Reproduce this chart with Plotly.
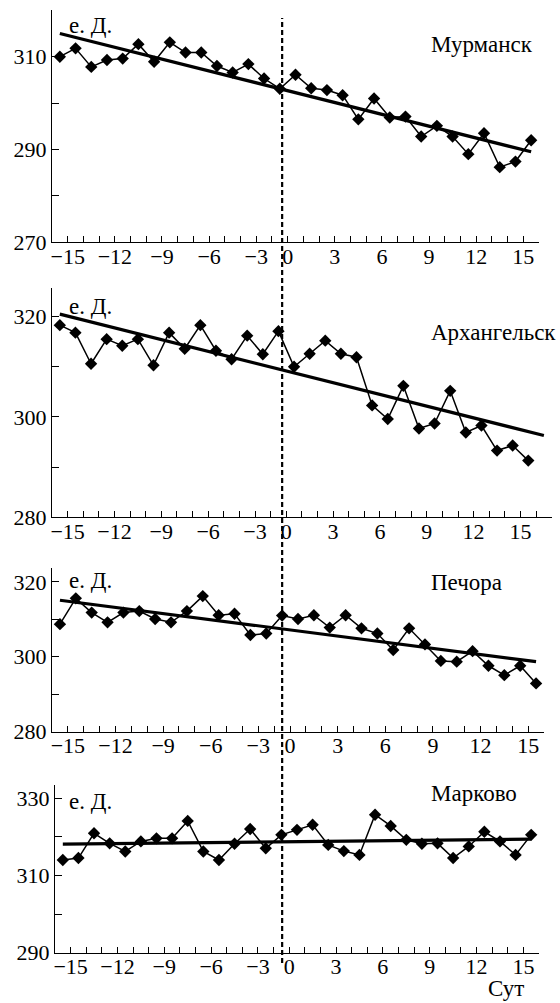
import plotly.graph_objects as go

# ---------------- data ----------------
days = list(range(-15, 16))
stations = ["Мурманск", "Архангельск", "Печора", "Марково"]

murmansk = [310.0, 311.8, 307.8, 309.3, 309.6, 312.7, 308.9, 313.1, 310.9, 310.9,
            308.0, 306.6, 308.4, 305.3, 303.1, 306.1, 303.2, 302.8, 301.7, 296.5,
            301.0, 296.9, 297.1, 292.8, 295.1, 292.8, 289.0, 293.5, 286.2, 287.4, 292.0]
arkhangelsk = [318.3, 316.8, 310.6, 315.5, 314.2, 315.5, 310.3, 316.8, 313.6, 318.3,
               313.2, 311.5, 316.2, 312.5, 317.1, 310.0, 312.6, 315.2, 312.6, 311.9,
               302.3, 299.6, 306.2, 297.7, 298.7, 305.2, 296.9, 298.3, 293.3, 294.3, 291.3]
pechora = [308.7, 315.6, 311.8, 309.2, 311.8, 312.2, 310.1, 309.2, 312.2, 316.2,
           311.1, 311.5, 305.8, 306.2, 311.0, 310.1, 311.1, 307.8, 311.1, 307.6,
           306.2, 301.8, 307.6, 303.3, 298.9, 298.7, 301.5, 297.6, 295.1, 297.6, 292.9]
markovo = [314.0, 314.5, 320.9, 318.3, 316.2, 318.8, 319.6, 319.6, 324.1, 316.2,
           314.0, 318.2, 322.0, 317.0, 320.5, 321.8, 323.1, 317.9, 316.3, 315.3,
           325.7, 322.8, 319.2, 318.2, 318.3, 314.5, 317.5, 321.3, 318.8, 315.3, 320.5]
series = [murmansk, arkhangelsk, pechora, markovo]

trend_x = [[-15, 15], [-15, 16], [-15, 15], [-15, 15]]
trend_y = [[315.0, 289.5], [320.5, 296.3], [315.1, 298.7], [318.1, 319.4]]

y_ranges = [[270, 320], [280, 325.7], [280, 323.7], [290, 333.4]]
y_tick0 = [10, 0, 0, 10]
x_ranges = [[-15.5, 15.5], [-15.5, 16.5], [-15.5, 15.5], [-15.5, 15.5]]
x_tickvals = [-14.5, -11.5, -8.5, -5.5, -2.5, -0.5, 2.5, 5.5, 8.5, 11.5, 14.5]
x_ticktext = ["−15", "−12", "−9", "−6", "−3", "0", "3", "6", "9", "12", "15"]
event_day = -0.85
unit_label = "е.\u00a0Д."
x_label = "Сут"

# ---------------- layout geometry (pixels) ----------------
W, H = 560, 1003
boxes = [(52, 539, 10.3, 242.3), (52, 551.7, 288, 517.3),
         (52, 544, 568, 731.7), (55, 539, 785, 952.7)]
unit_y = [26, 306.5, 580, 801.5]
name_y = [44, 333, 582.5, 793]

FONT = "Liberation Serif, Times New Roman, serif"
TICK_SIZE = 22
fig = go.Figure()
layout = dict(template="none", width=W, height=H, margin=dict(l=0, r=0, t=0, b=0, pad=0),
              paper_bgcolor="white", plot_bgcolor="white", showlegend=False,
              font=dict(family=FONT, size=TICK_SIZE, color="black"))
annotations = []
for i in range(4):
    xa = "x" if i == 0 else f"x{i+1}"
    ya = "y" if i == 0 else f"y{i+1}"
    fig.add_trace(go.Scatter(x=days, y=series[i], xaxis=xa, yaxis=ya, mode="lines+markers",
                             line=dict(color="black", width=1.5),
                             marker=dict(symbol="diamond", size=9.5, color="black")))
    fig.add_trace(go.Scatter(x=trend_x[i], y=trend_y[i], xaxis=xa, yaxis=ya, mode="lines",
                             line=dict(color="black", width=3.2)))
    x0, x1, yt, yb = boxes[i]
    key_x = "xaxis" if i == 0 else f"xaxis{i+1}"
    key_y = "yaxis" if i == 0 else f"yaxis{i+1}"
    layout[key_x] = dict(domain=[x0 / W, x1 / W], range=x_ranges[i], anchor=ya,
                         automargin=False,
                         showgrid=False, zeroline=False, showline=True, linecolor="black",
                         linewidth=1.2, ticks="inside", ticklen=6, tickcolor="black",
                         tickmode="array", tickvals=x_tickvals, ticktext=x_ticktext,
                         ticklabelstandoff=-6,
                         tickfont=dict(family=FONT, size=TICK_SIZE, color="black"),
                         minor=dict(tickmode="linear", tick0=0.5, dtick=1, ticks="inside",
                                    ticklen=6, tickcolor="black", showgrid=False))
    layout[key_y] = dict(domain=[1 - yb / H, 1 - yt / H], range=y_ranges[i], anchor=xa,
                         automargin=False,
                         showgrid=False, zeroline=False, showline=True, linecolor="black",
                         linewidth=1.2, ticks="inside", ticklen=7, tickcolor="black",
                         tickmode="linear", tick0=y_tick0[i], dtick=20,
                         tickfont=dict(family=FONT, size=TICK_SIZE, color="black"),
                         minor=dict(tickmode="linear", tick0=0, dtick=10, ticks="inside",
                                    ticklen=7, tickcolor="black", showgrid=False))
    annotations.append(dict(text=unit_label, xref="paper", yref="paper", x=67 / W,
                            y=1 - unit_y[i] / H, xanchor="left", yanchor="middle",
                            showarrow=False, font=dict(family=FONT, size=23, color="black")))
    annotations.append(dict(text=stations[i], xref="paper", yref="paper", x=429 / W,
                            y=1 - name_y[i] / H, xanchor="left", yanchor="middle",
                            showarrow=False, font=dict(family=FONT, size=23, color="black")))

annotations.append(dict(text=x_label, xref="paper", yref="paper", x=486 / W, y=0,
                        xanchor="left", yanchor="bottom", showarrow=False,
                        font=dict(family=FONT, size=23, color="black")))
layout["annotations"] = annotations
layout["shapes"] = [dict(type="line", xref="x", yref="paper", x0=event_day, x1=event_day,
                         y0=1 - 963 / H, y1=1 - 18 / H,
                         line=dict(color="black", width=2.2, dash="5px,3px"))]
fig.update_layout(**layout)
fig.write_html("out.html", config={"displayModeBar": False},
               post_script="document.body.style.margin='0';document.body.style.overflow='hidden';")
